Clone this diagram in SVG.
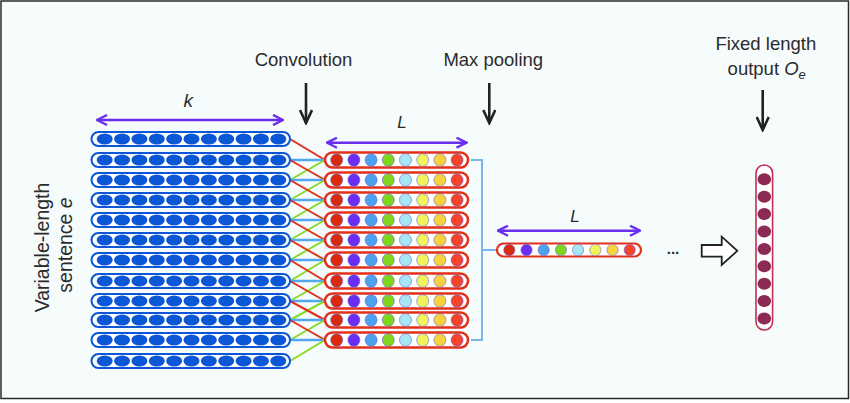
<svg xmlns="http://www.w3.org/2000/svg" xmlns:xlink="http://www.w3.org/1999/xlink" width="850" height="403" viewBox="0 0 850 403">
<style>
.lbl{font-family:"Liberation Sans",Arial,sans-serif;fill:#2b2b2b;}
.it{font-style:italic;}
.pa{stroke:#6a2ef0;stroke-width:2.4;fill:none;marker-start:url(#ph);marker-end:url(#ph);}
.ba{stroke:#222;stroke-width:2.6;fill:none;marker-end:url(#bh);}
.cr{stroke:#e2301a;stroke-width:2;}
.cb{stroke:#52a8f0;stroke-width:2.6;}
.cg{stroke:#86dc22;stroke-width:2;}
.lb{fill:#0b57d6;}
.c{stroke:#6c64e0;stroke-width:0.6;}
</style>
<defs>
<marker id="ph" viewBox="0 0 12 12" refX="11" refY="6" markerWidth="12" markerHeight="12" markerUnits="userSpaceOnUse" orient="auto-start-reverse">
<path d="M1,1 L11,6 L1,11" fill="none" stroke="#6a2ef0" stroke-width="2.4"/>
</marker>
<marker id="bh" viewBox="0 0 16 14" refX="14" refY="7" markerWidth="16" markerHeight="14" markerUnits="userSpaceOnUse" orient="auto">
<path d="M1,1 L14,7 L1,13" fill="none" stroke="#222" stroke-width="2.6"/>
</marker>
<g id="leftRow">
<rect x="91.5" y="-7" width="198.5" height="14" rx="7" fill="#fff" stroke="#0b57d6" stroke-width="2"/>
<ellipse class="lb" cx="104.7" cy="0" rx="8" ry="5.6"/>
<ellipse class="lb" cx="122.06" cy="0" rx="8" ry="5.6"/>
<ellipse class="lb" cx="139.42" cy="0" rx="8" ry="5.6"/>
<ellipse class="lb" cx="156.78" cy="0" rx="8" ry="5.6"/>
<ellipse class="lb" cx="174.14" cy="0" rx="8" ry="5.6"/>
<ellipse class="lb" cx="191.5" cy="0" rx="8" ry="5.6"/>
<ellipse class="lb" cx="208.86" cy="0" rx="8" ry="5.6"/>
<ellipse class="lb" cx="226.22" cy="0" rx="8" ry="5.6"/>
<ellipse class="lb" cx="243.58" cy="0" rx="8" ry="5.6"/>
<ellipse class="lb" cx="260.94" cy="0" rx="8" ry="5.6"/>
<ellipse class="lb" cx="278.3" cy="0" rx="8" ry="5.6"/>
</g>
<g id="midRow">
<rect x="325" y="-7.5" width="143" height="15" rx="7.5" fill="#fff" stroke="#e2301a" stroke-width="2.5"/>
<ellipse class="c" cx="336.7" cy="0" rx="6" ry="6.3" fill="#d92a0c"/>
<ellipse class="c" cx="353.9" cy="0" rx="6" ry="6.3" fill="#6a2ef0"/>
<ellipse class="c" cx="371.1" cy="0" rx="6" ry="6.3" fill="#4da2ee"/>
<ellipse class="c" cx="388.3" cy="0" rx="6" ry="6.3" fill="#7fd61c"/>
<ellipse class="c" cx="405.5" cy="0" rx="6" ry="6.3" fill="#a6e6f2"/>
<ellipse class="c" cx="422.7" cy="0" rx="6" ry="6.3" fill="#f2f25a"/>
<ellipse class="c" cx="439.9" cy="0" rx="6" ry="6.3" fill="#f8d23e"/>
<ellipse class="c" cx="457.1" cy="0" rx="6" ry="6.3" fill="#f4452a"/>
</g>
</defs>
<rect x="0" y="0" width="850" height="403" fill="#fff"/>
<rect x="1" y="1" width="847.5" height="397.5" fill="#f6fbfc" stroke="#2b2b2b" stroke-width="1.5"/>

<g id="connectors">
<line class="cr" x1="290" y1="139" x2="325" y2="160"/>
<line class="cb" x1="290" y1="160" x2="325" y2="160"/>
<line class="cg" x1="290" y1="180" x2="325" y2="160"/>
<line class="cr" x1="290" y1="160" x2="325" y2="180"/>
<line class="cb" x1="290" y1="180" x2="325" y2="180"/>
<line class="cg" x1="290" y1="200" x2="325" y2="180"/>
<line class="cr" x1="290" y1="180" x2="325" y2="200"/>
<line class="cb" x1="290" y1="200" x2="325" y2="200"/>
<line class="cg" x1="290" y1="220" x2="325" y2="200"/>
<line class="cr" x1="290" y1="200" x2="325" y2="220"/>
<line class="cb" x1="290" y1="220" x2="325" y2="220"/>
<line class="cg" x1="290" y1="240" x2="325" y2="220"/>
<line class="cr" x1="290" y1="220" x2="325" y2="240"/>
<line class="cb" x1="290" y1="240" x2="325" y2="240"/>
<line class="cg" x1="290" y1="260" x2="325" y2="240"/>
<line class="cr" x1="290" y1="240" x2="325" y2="260"/>
<line class="cb" x1="290" y1="260" x2="325" y2="260"/>
<line class="cg" x1="290" y1="281" x2="325" y2="260"/>
<line class="cr" x1="290" y1="260" x2="325" y2="281"/>
<line class="cb" x1="290" y1="281" x2="325" y2="281"/>
<line class="cg" x1="290" y1="301" x2="325" y2="281"/>
<line class="cr" x1="290" y1="281" x2="325" y2="301"/>
<line class="cb" x1="290" y1="301" x2="325" y2="301"/>
<line class="cg" x1="290" y1="320" x2="325" y2="301"/>
<line class="cr" x1="290" y1="301" x2="325" y2="320"/>
<line class="cb" x1="290" y1="320" x2="325" y2="320"/>
<line class="cg" x1="290" y1="340" x2="325" y2="320"/>
<line class="cr" x1="290" y1="320" x2="325" y2="340"/>
<line class="cb" x1="290" y1="340" x2="325" y2="340"/>
<line class="cg" x1="290" y1="361" x2="325" y2="340"/>
<path d="M471,160 H482 V340 H471 M482,250 H497" fill="none" stroke="#7ab6ee" stroke-width="2"/>
<polygon points="701.7,245 721.7,245 721.7,236.7 737.3,250.8 721.7,265 721.7,256.7 701.7,256.7" fill="#fff" stroke="#222" stroke-width="1.8" stroke-linejoin="miter"/>
<line class="ba" x1="306" y1="83" x2="306" y2="123"/>
<line class="ba" x1="489.3" y1="83" x2="489.3" y2="123"/>
<line class="ba" x1="762.7" y1="90" x2="762.7" y2="130"/>
<line class="pa" x1="97" y1="120" x2="283" y2="120"/>
<line class="pa" x1="327" y1="142.7" x2="466.5" y2="142.7"/>
<line class="pa" x1="498" y1="230.7" x2="640" y2="230.7"/>
</g>

<g id="input-sentence">
<use xlink:href="#leftRow" href="#leftRow" y="139"/>
<use xlink:href="#leftRow" href="#leftRow" y="160"/>
<use xlink:href="#leftRow" href="#leftRow" y="180"/>
<use xlink:href="#leftRow" href="#leftRow" y="200"/>
<use xlink:href="#leftRow" href="#leftRow" y="220"/>
<use xlink:href="#leftRow" href="#leftRow" y="240"/>
<use xlink:href="#leftRow" href="#leftRow" y="260"/>
<use xlink:href="#leftRow" href="#leftRow" y="281"/>
<use xlink:href="#leftRow" href="#leftRow" y="301"/>
<use xlink:href="#leftRow" href="#leftRow" y="320"/>
<use xlink:href="#leftRow" href="#leftRow" y="340"/>
<use xlink:href="#leftRow" href="#leftRow" y="361"/>
</g>

<g id="convolution-maps">
<use xlink:href="#midRow" href="#midRow" y="160"/>
<use xlink:href="#midRow" href="#midRow" y="180"/>
<use xlink:href="#midRow" href="#midRow" y="200"/>
<use xlink:href="#midRow" href="#midRow" y="220"/>
<use xlink:href="#midRow" href="#midRow" y="240"/>
<use xlink:href="#midRow" href="#midRow" y="260"/>
<use xlink:href="#midRow" href="#midRow" y="281"/>
<use xlink:href="#midRow" href="#midRow" y="301"/>
<use xlink:href="#midRow" href="#midRow" y="320"/>
<use xlink:href="#midRow" href="#midRow" y="340"/>
</g>

<g id="pooled-vector">
<rect x="497" y="243.5" width="144" height="13" rx="6.5" fill="#fff" stroke="#e2301a" stroke-width="2.2"/>
<ellipse class="c" cx="509.3" cy="250" rx="5.6" ry="5.8" fill="#d92a0c"/>
<ellipse class="c" cx="526.5" cy="250" rx="5.6" ry="5.8" fill="#6a2ef0"/>
<ellipse class="c" cx="543.7" cy="250" rx="5.6" ry="5.8" fill="#4da2ee"/>
<ellipse class="c" cx="560.9" cy="250" rx="5.6" ry="5.8" fill="#7fd61c"/>
<ellipse class="c" cx="578.1" cy="250" rx="5.6" ry="5.8" fill="#a6e6f2"/>
<ellipse class="c" cx="595.3" cy="250" rx="5.6" ry="5.8" fill="#f2f25a"/>
<ellipse class="c" cx="612.5" cy="250" rx="5.6" ry="5.8" fill="#f8d23e"/>
<ellipse class="c" cx="629.7" cy="250" rx="5.6" ry="5.8" fill="#f4452a"/>
</g>

<g id="output-vector">
<rect x="756" y="165" width="16.6" height="165" rx="8.3" fill="#fff" stroke="#c23052" stroke-width="1.6"/>
<g fill="#8b2a55">
<ellipse cx="764.3" cy="179.3" rx="6.8" ry="6"/>
<ellipse cx="764.3" cy="196.7" rx="6.8" ry="6"/>
<ellipse cx="764.3" cy="214.1" rx="6.8" ry="6"/>
<ellipse cx="764.3" cy="231.5" rx="6.8" ry="6"/>
<ellipse cx="764.3" cy="248.9" rx="6.8" ry="6"/>
<ellipse cx="764.3" cy="266.3" rx="6.8" ry="6"/>
<ellipse cx="764.3" cy="283.7" rx="6.8" ry="6"/>
<ellipse cx="764.3" cy="301.1" rx="6.8" ry="6"/>
<ellipse cx="764.3" cy="318.5" rx="6.8" ry="6"/>
</g>
</g>

<g id="labels">
<text class="lbl" x="303.5" y="66" font-size="18.5" text-anchor="middle">Convolution</text>
<text class="lbl" x="493.3" y="66" font-size="18.5" text-anchor="middle">Max pooling</text>
<text class="lbl" x="765.8" y="50" font-size="18.5" text-anchor="middle">Fixed length</text>
<text class="lbl" x="766.7" y="75" font-size="18.5" text-anchor="middle">output <tspan class="it">O</tspan><tspan class="it" font-size="13" dy="4">e</tspan></text>
<text class="lbl it" x="188.3" y="106.5" font-size="19" text-anchor="middle">k</text>
<text class="lbl it" x="402" y="128" font-size="17" text-anchor="middle">L</text>
<text class="lbl it" x="575" y="222" font-size="17" text-anchor="middle">L</text>
<text class="lbl" font-size="19.5" text-anchor="middle" transform="translate(49,247.5) rotate(-90)">Variable-length</text>
<text class="lbl" font-size="19.5" text-anchor="middle" transform="translate(71.5,245) rotate(-90)">sentence <tspan class="it">e</tspan></text>
<text class="lbl" x="673" y="254" font-size="15" font-weight="bold" text-anchor="middle">...</text>
</g>
</svg>
